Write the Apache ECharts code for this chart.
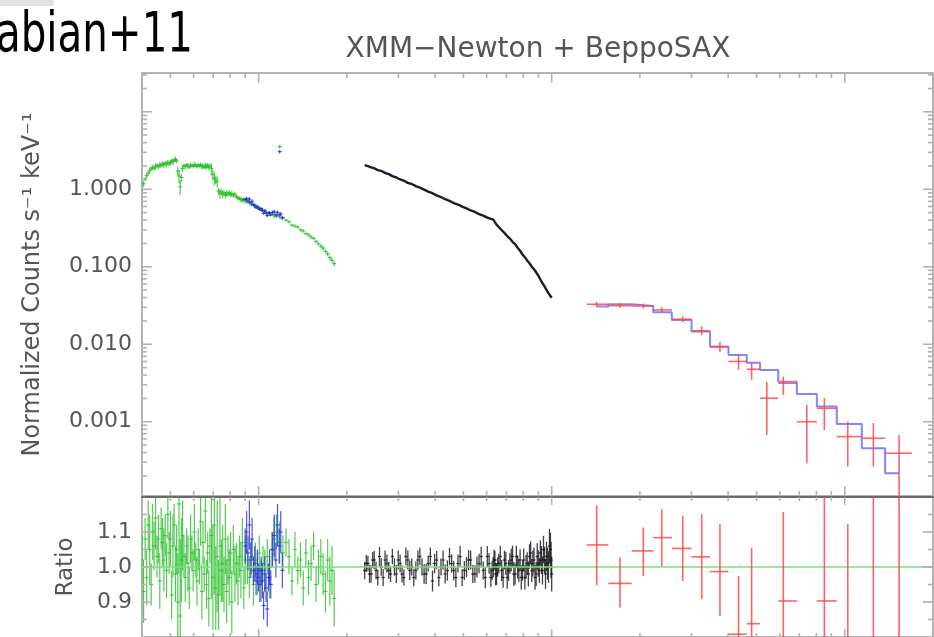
<!DOCTYPE html>
<html>
<head>
<meta charset="utf-8">
<title>XMM-Newton + BeppoSAX spectrum</title>
<script src="https://cdn.jsdelivr.net/npm/echarts@6/dist/echarts.min.js"></script>
<style>
  html, body { margin: 0; padding: 0; background: #ffffff; }
  #chart { width: 934px; height: 637px; }
</style>
</head>
<body>
<div id="chart"></div>
<script>
// ---- soft band (green): energy [keV], normalized counts, data/model ratio, ratio error
const lowE = [
  0.400,0.405,0.410,0.415,0.420,0.425,0.430,0.435,0.440,0.445,0.450,0.455,0.460,0.465,0.470,0.475,0.480,0.485,0.490,0.495,0.500,0.505,0.510,0.515,0.520,0.525,
  0.530,0.535,0.540,0.545,0.550,
  0.556,0.562,0.568,0.574,0.580,0.586,0.592,0.598,0.604,0.610,0.616,0.622,0.628,0.634,0.640,0.646,0.652,0.658,0.664,0.670,0.676,0.682,
  0.690,0.698,0.706,0.714,0.722,0.730,0.738,0.746,0.754,0.762,0.770,0.778,0.786,0.794,0.802,0.810,0.820,0.830,0.840,0.850,0.860,0.870,0.880,0.890,0.900,
  0.915,0.930,0.945,0.960,0.975,0.990,1.005,1.020,1.035,1.050,1.070,1.090,1.110,1.130,1.150,1.180,1.210,
  1.24,1.27,1.30,1.33,1.36,1.39,1.42,1.45,1.48,1.51,1.54,1.57,1.60,1.63,1.66,1.69,1.72,1.75,1.78,1.81
];
const lowF = [
  1.00,1.18,1.35,1.50,1.62,1.75,1.85,1.92,1.88,1.98,2.04,1.95,2.08,2.02,2.14,2.06,2.18,2.10,2.24,2.12,2.22,2.30,2.26,2.38,2.45,2.32,
  1.72,1.48,1.08,1.42,1.85,
  2.02,1.96,2.08,2.00,1.94,2.06,2.02,1.98,2.10,2.04,1.96,2.06,2.00,2.08,1.95,2.02,1.90,2.04,1.96,2.06,1.92,2.00,
  1.85,1.55,1.40,1.32,1.26,0.95,0.88,0.92,0.86,0.90,0.84,0.89,0.87,0.91,0.85,0.88,0.84,0.86,0.80,0.78,0.76,0.74,0.72,0.74,0.70,
  0.69,0.67,0.63,0.63,0.59,0.58,0.57,0.54,0.53,0.52,0.49,0.48,0.475,0.455,0.45,0.44,0.43,
  0.40,0.38,0.345,0.335,0.325,0.30,0.29,0.268,0.258,0.243,0.232,0.213,0.198,0.184,0.174,0.158,0.147,0.131,0.121,0.110
];
const lowRatio = [
  1.02,0.93,1.08,0.97,1.12,1.05,0.95,1.10,1.06,1.14,1.03,1.08,0.96,1.11,1.07,1.02,1.09,0.99,1.15,1.04,1.08,0.92,1.06,1.12,0.98,1.05,
  0.90,1.18,0.86,1.02,1.09,
  1.03,0.97,1.06,1.01,0.94,1.08,1.04,0.99,1.10,1.02,0.96,1.05,1.00,1.13,0.93,1.07,0.98,1.16,0.95,1.04,0.91,1.06,
  1.09,0.97,1.12,0.94,1.03,0.92,1.06,0.99,1.01,0.95,1.08,0.93,1.02,0.97,1.04,0.90,1.05,0.98,1.01,0.96,1.03,0.99,1.07,0.94,1.02,
  1.00,0.97,1.03,0.95,1.02,0.98,1.04,0.96,1.01,0.99,1.03,0.97,1.05,1.08,1.10,1.07,1.04,
  1.07,1.03,0.96,1.05,0.99,1.02,0.94,1.04,0.97,1.01,1.06,0.95,1.00,1.03,0.98,0.93,1.02,0.96,0.99,0.91
];
const lowErr = [
  0.07,0.09,0.06,0.08,0.07,0.10,0.06,0.08,0.07,0.09,0.06,0.07,0.08,0.06,0.07,0.09,0.06,0.08,0.07,0.06,0.08,0.07,0.09,0.06,0.08,0.07,
  0.14,0.20,0.22,0.12,0.10,
  0.06,0.07,0.05,0.08,0.06,0.07,0.05,0.06,0.08,0.05,0.07,0.06,0.05,0.07,0.08,0.06,0.05,0.09,0.07,0.06,0.08,0.05,
  0.18,0.15,0.20,0.12,0.16,0.10,0.14,0.09,0.11,0.08,0.10,0.09,0.07,0.08,0.06,0.09,0.07,0.08,0.06,0.07,0.06,0.08,0.07,0.06,0.07,
  0.05,0.06,0.05,0.06,0.05,0.06,0.05,0.06,0.05,0.06,0.05,0.06,0.05,0.06,0.05,0.06,0.05,
  0.04,0.05,0.04,0.05,0.04,0.05,0.05,0.04,0.05,0.05,0.04,0.05,0.05,0.05,0.06,0.06,0.06,0.07,0.07,0.08
];
// isolated high bins near 1.2 keV
const lowSpikeE = [1.18];
const lowSpikeF = [3.55];

// ---- second soft set (blue)
const midE = [0.900,0.910,0.920,0.930,0.940,0.950,0.960,0.970,0.980,0.990,1.000,1.010,1.020,1.030,1.040,1.050,1.060,1.070,1.080,1.090,1.100,1.115,1.130,1.145,1.160,1.175,1.190,1.205];
const midF = [0.742,0.759,0.707,0.745,0.668,0.697,0.629,0.626,0.586,0.600,0.572,0.551,0.564,0.538,0.490,0.529,0.498,0.458,0.495,0.500,0.466,0.504,0.512,0.469,0.504,0.466,0.479,0.426];
const midRatio = [1.06,1.10,1.04,1.12,1.02,1.08,0.99,1.01,0.96,1.00,0.97,0.95,0.99,0.96,0.89,0.98,0.94,0.88,0.97,1.00,0.95,1.05,1.09,1.02,1.12,1.06,1.10,0.99];
const midErr = [0.05,0.06,0.05,0.07,0.05,0.06,0.04,0.05,0.04,0.05,0.04,0.05,0.04,0.05,0.04,0.05,0.04,0.05,0.04,0.05,0.04,0.05,0.06,0.05,0.06,0.05,0.06,0.05];
const midSpikeE = [1.18];
const midSpikeF = [3.06];

// ---- EPIC band (black): spectrum channels
const epicE = [
  2.30,2.36,2.42,2.48,2.55,2.62,2.70,2.78,2.86,2.95,
  3.04,3.13,3.23,3.33,3.44,3.55,3.67,3.79,3.92,4.05,
  4.19,4.33,4.48,4.63,4.79,4.95,5.12,5.29,5.47,5.65,
  5.84,6.03,6.20,6.32,6.40,6.48,6.60,6.75,6.90,7.05,
  7.20,7.35,7.50,7.65,7.80,7.95,8.10,8.25,8.40,8.55,
  8.70,8.85,9.00,9.15,9.30,9.45,9.60,9.75,9.90,10.0
];
const epicF = [
  2.05,1.99,1.92,1.87,1.77,1.73,1.63,1.57,1.48,1.42,
  1.34,1.29,1.21,1.17,1.10,1.05,0.99,0.935,0.89,0.835,
  0.795,0.745,0.71,0.665,0.636,0.597,0.569,0.533,0.51,0.478,
  0.457,0.43,0.414,0.405,0.398,0.35,0.326,0.296,0.273,0.249,
  0.231,0.21,0.196,0.176,0.161,0.144,0.133,0.120,0.111,0.100,
  0.0928,0.0848,0.0771,0.0684,0.0615,0.0558,0.0505,0.0458,0.0420,0.0398
];
const epicRatio = [
  0.99,1.01,0.98,1.02,0.97,1.00,1.02,0.99,1.03,0.98,
  1.01,0.97,1.02,1.00,0.99,1.03,0.98,1.01,0.96,1.02,
  1.00,0.98,1.03,0.99,1.01,0.97,1.00,1.02,0.98,1.01,
  0.99,1.03,0.97,1.00,1.02,0.98,1.01,0.99,1.02,0.97,
  1.01,1.03,0.98,1.00,1.02,0.99,0.97,1.01,1.03,0.99,
  1.02,0.98,1.01,1.04,0.99,1.02,1.03,1.00,1.05,0.98
];
const epicErr = [
  0.025,0.022,0.024,0.026,0.023,0.025,0.027,0.024,0.022,0.026,
  0.025,0.023,0.027,0.024,0.026,0.025,0.028,0.023,0.030,0.026,
  0.024,0.027,0.025,0.028,0.026,0.024,0.029,0.027,0.025,0.028,
  0.026,0.030,0.027,0.029,0.026,0.031,0.028,0.030,0.027,0.032,
  0.029,0.031,0.030,0.033,0.031,0.029,0.034,0.032,0.035,0.033,
  0.036,0.034,0.038,0.036,0.040,0.038,0.042,0.045,0.048,0.050
];
// second EPIC camera: ratio channels between the ones above
const epic2E = [
  2.33,2.39,2.45,2.515,2.585,2.66,2.74,2.82,2.905,2.995,
  3.085,3.18,3.28,3.385,3.495,3.61,3.73,3.855,3.985,4.12,
  4.26,4.405,4.555,4.71,4.87,5.035,5.205,5.38,5.56,5.745,
  5.935,6.115,6.26,6.36,6.44,6.54,6.675,6.825,6.975,7.125,
  7.275,7.425,7.575,7.725,7.875,8.025,8.175,8.325,8.475,8.625,
  8.775,8.925,9.075,9.225,9.375,9.525,9.675,9.825,9.95
];
const epic2Ratio = [
  1.01,0.98,1.02,0.99,1.03,0.97,1.01,0.98,1.00,1.02,
  0.98,1.03,0.99,0.97,1.02,1.00,0.98,1.03,1.01,0.97,
  1.02,0.99,1.01,0.97,1.03,0.99,1.02,0.98,1.00,1.03,
  0.97,1.01,0.99,1.02,0.98,1.00,1.03,0.97,1.01,0.99,
  1.02,0.98,1.03,0.99,0.97,1.02,1.00,0.98,1.04,1.01,
  0.97,1.03,0.99,1.02,1.05,0.98,1.01,1.06,1.02
];
const epic2Err = [
  0.024,0.026,0.023,0.025,0.027,0.024,0.026,0.023,0.025,0.027,
  0.024,0.026,0.028,0.025,0.027,0.024,0.029,0.026,0.028,0.025,
  0.027,0.029,0.026,0.028,0.030,0.027,0.029,0.026,0.030,0.028,
  0.031,0.029,0.027,0.030,0.032,0.028,0.031,0.029,0.033,0.030,
  0.032,0.034,0.031,0.033,0.035,0.032,0.034,0.036,0.033,0.037,
  0.035,0.038,0.036,0.040,0.039,0.043,0.046,0.049,0.052
];

// ---- hard band (red): bin centre, bin edges, counts with errors, ratio with errors
const saxE    = [14.24,17.11,20.54,23.74,28.0,32.5,37.5,43.4,48.1,54.2,61.7,74.2,85.2,102.4,125.2,153.2];
const saxElo  = [13.17,15.6,18.75,22.2,25.7,30.0,34.7,40.1,46.3,51.4,59.3,68.6,80.3,93.9,114.3,137.3];
const saxEhi  = [15.6,18.75,22.2,25.7,30.0,34.7,40.1,46.3,51.4,59.3,68.6,80.3,93.9,114.3,137.3,169.3];
const saxF    = [0.0328,0.0315,0.0312,0.0277,0.0210,0.0149,0.0093,0.0060,0.00476,0.00201,0.00314,0.00100,0.00149,0.000643,0.000612,0.000392];
const saxFlo  = [0.0305,0.0295,0.0290,0.0255,0.0192,0.0131,0.0080,0.00466,0.00347,0.000676,0.00222,0.000294,0.000783,0.000264,0.000264,0.00001];
const saxFhi  = [0.0352,0.0336,0.0335,0.0300,0.0229,0.0170,0.0108,0.00728,0.00575,0.00329,0.00382,0.00165,0.00203,0.00100,0.000964,0.000676];
const saxRatio   = [1.063,0.953,1.046,1.084,1.053,1.029,0.987,0.808,0.838,0.43,0.903,0.44,0.903,0.69,1.35,1.81];
const saxRatioLo = [0.948,0.884,0.974,1.003,0.960,0.908,0.860,0.62,0.60,0.145,0.67,0.13,0.50,0.28,0.58,0.05];
const saxRatioHi = [1.176,1.027,1.113,1.165,1.146,1.151,1.122,0.974,1.055,0.71,1.157,0.72,1.29,1.122,2.12,3.1];
// folded model (blue histogram): step edges and levels
const saxModelEdges  = [14.24,15.6,18.75,22.2,25.7,30.0,34.7,40.1,46.3,51.4,59.3,68.6,80.3,93.9,114.3,137.3,153.2];
const saxModelLevels = [0.0306,0.0328,0.0312,0.0259,0.0206,0.0146,0.0093,0.00728,0.00579,0.00466,0.00329,0.00228,0.00157,0.000937,0.000455,0.000216];

// ---- axis ticks and labels
const xMajorTicks = [1, 10, 100];
const xMinorTicks = [0.5,0.6,0.7,0.8,0.9,2,3,4,5,6,7,8,9,20,30,40,50,60,70,80,90];
const yMajorTicks = [0.001, 0.01, 0.1, 1, 10];
const yMinorTicks = [
  0.0002,0.0003,0.0004,0.0005,0.0006,0.0007,0.0008,0.0009,
  0.002,0.003,0.004,0.005,0.006,0.007,0.008,0.009,
  0.02,0.03,0.04,0.05,0.06,0.07,0.08,0.09,
  0.2,0.3,0.4,0.5,0.6,0.7,0.8,0.9,
  2,3,4,5,6,7,8,9,20,30
];
const yLabelTicks = [0.001, 0.01, 0.1, 1];
const ratioMajorTicks = [0.9, 1.0, 1.1];
const ratioMinorTicks = [0.85, 0.95, 1.05, 1.15];

const X_MIN = 0.4, X_MAX = 200;
const Y_MIN = 1.1e-4, Y_MAX = 31.7;
const R_MIN = 0.8, R_MAX = 1.2;

const GREEN = 'rgba(36,190,36,0.80)';
const BLUE = 'rgba(40,40,225,0.80)';
const BLACK = 'rgba(18,18,24,0.80)';
const RED = 'rgba(255,72,72,0.85)';
const AXIS_GREY = '#b2b2b2';
const LABEL_GREY = '#555555';
const FONT = '"DejaVu Sans", "Liberation Sans", sans-serif';

// error bar glyph: [x, y, yLow, yHigh, xLow, xHigh]; xLow/xHigh = 0 gives a short cap
function errorBarRenderer(color, width, halfCap) {
  return function (params, api) {
    const x = api.value(0), y = api.value(1);
    const c = api.coord([x, y]);
    const lo = api.coord([x, api.value(2)]);
    const hi = api.coord([x, api.value(3)]);
    const xl = api.value(4), xh = api.value(5);
    let l = c[0] - halfCap, r = c[0] + halfCap;
    if (xl > 0 && xh > 0) {
      l = api.coord([xl, y])[0];
      r = api.coord([xh, y])[0];
    }
    const style = { stroke: color, lineWidth: width };
    return {
      type: 'group',
      children: [
        { type: 'line', shape: { x1: c[0], y1: lo[1], x2: c[0], y2: hi[1] }, style: style },
        { type: 'line', shape: { x1: l, y1: c[1], x2: r, y2: c[1] }, style: style }
      ]
    };
  };
}

// tick marks on all four sides of a panel: item = [x, y, kind]
// kind 0/1: major/minor x tick, kind 2/3: major/minor y tick
function tickRenderer(xLen, yLen) {
  return function (params, api) {
    const cs = params.coordSys;
    const kind = api.value(2);
    const p = api.coord([api.value(0), api.value(1)]);
    const style = { stroke: AXIS_GREY, lineWidth: 1.6 };
    if (kind < 2) {
      const len = xLen[kind];
      const top = cs.y, bot = cs.y + cs.height;
      return { type: 'group', children: [
        { type: 'line', shape: { x1: p[0], y1: top, x2: p[0], y2: top + len[0] }, style: style },
        { type: 'line', shape: { x1: p[0], y1: bot, x2: p[0], y2: bot - len[1] }, style: style }
      ] };
    }
    const len = yLen[kind - 2];
    const left = cs.x, right = cs.x + cs.width;
    return { type: 'group', children: [
      { type: 'line', shape: { x1: left, y1: p[1], x2: left + len, y2: p[1] }, style: style },
      { type: 'line', shape: { x1: right, y1: p[1], x2: right - len, y2: p[1] }, style: style }
    ] };
  };
}

// assemble series data
const lowSpec = lowE.map((e, i) => [e, lowF[i], lowF[i] * (1 - lowErr[i]), lowF[i] * (1 + lowErr[i]), 0, 0])
  .concat(lowSpikeE.map((e, i) => [e, lowSpikeF[i], lowSpikeF[i] * 0.95, lowSpikeF[i] * 1.05, 0, 0]));
const midSpec = midE.map((e, i) => [e, midF[i], midF[i] * (1 - midErr[i]), midF[i] * (1 + midErr[i]), 0, 0])
  .concat(midSpikeE.map((e, i) => [e, midSpikeF[i], midSpikeF[i] * 0.95, midSpikeF[i] * 1.05, 0, 0]));
const lowRat = lowE.map((e, i) => [e, lowRatio[i], lowRatio[i] - lowErr[i], lowRatio[i] + lowErr[i], 0, 0]);
const midRat = midE.map((e, i) => [e, midRatio[i], midRatio[i] - midErr[i], midRatio[i] + midErr[i], 0, 0]);
const epicLine = epicE.map((e, i) => [e, epicF[i]]);
const epicRat = epicE.map((e, i) => [e, epicRatio[i], epicRatio[i] - epicErr[i], epicRatio[i] + epicErr[i], 0, 0])
  .concat(epic2E.map((e, i) => [e, epic2Ratio[i], epic2Ratio[i] - epic2Err[i], epic2Ratio[i] + epic2Err[i], 0, 0]));
const saxSpec = saxE.map((e, i) => [e, saxF[i], saxFlo[i], saxFhi[i], saxElo[i], saxEhi[i]]);
const saxRat = saxE.map((e, i) => [e, saxRatio[i], saxRatioLo[i], saxRatioHi[i], saxElo[i], saxEhi[i]]);
const saxModel = saxModelEdges.map((e, i) => [e, saxModelLevels[Math.min(i, saxModelLevels.length - 1)]]);
const unityLine = [[X_MIN, 1], [X_MAX, 1]];

const topTicks = []
  .concat(xMajorTicks.map(v => [v, 1, 0]))
  .concat(xMinorTicks.map(v => [v, 1, 1]))
  .concat(yMajorTicks.map(v => [1, v, 2]))
  .concat(yMinorTicks.map(v => [1, v, 3]));
const ratioTicks = []
  .concat(xMajorTicks.map(v => [v, 1, 0]))
  .concat(xMinorTicks.map(v => [v, 1, 1]))
  .concat(ratioMajorTicks.map(v => [1, v, 2]))
  .concat(ratioMinorTicks.map(v => [1, v, 3]));

function isLabelled(v, list) {
  return list.some(t => Math.abs(v - t) / t < 1e-6);
}

// corner tag: squeeze the glyphs horizontally to the narrow hand-lettered look
const TAG_TEXT = 'Fabian+11';
const TAG_FONT = '56px "DejaVu Sans", sans-serif';
const measureCtx = document.createElement('canvas').getContext('2d');
measureCtx.font = TAG_FONT;
const tagScale = 197 / measureCtx.measureText('abian+11').width;

const chart = echarts.init(document.getElementById('chart'), null, { renderer: 'canvas' });

chart.setOption({
  animation: false,
  backgroundColor: '#ffffff',
  title: {
    text: 'XMM−Newton + BeppoSAX',
    left: 538,
    top: 36,
    textAlign: 'center',
    padding: 0,
    textStyle: { fontFamily: FONT, fontSize: 28, fontWeight: 'normal', color: LABEL_GREY }
  },
  graphic: [
    { type: 'rect', shape: { x: 0, y: 0, width: 54, height: 6 }, style: { fill: '#e2e2e2' } },
    {
      type: 'text', x: 193, y: 36, scaleX: tagScale, scaleY: 1,
      style: {
        text: TAG_TEXT,
        align: 'right',
        verticalAlign: 'middle',
        font: TAG_FONT,
        fill: '#000000'
      }
    }
  ],
  grid: [
    { left: 142, top: 73, width: 791, height: 423, show: true, borderColor: AXIS_GREY, borderWidth: 2, backgroundColor: 'transparent' },
    { left: 142, top: 497, width: 791, height: 141, show: true, borderColor: AXIS_GREY, borderWidth: 2, backgroundColor: 'transparent' }
  ],
  xAxis: [
    {
      gridIndex: 0, type: 'log', logBase: 10, min: X_MIN, max: X_MAX,
      axisLine: { show: false }, axisTick: { show: false }, axisLabel: { show: false }, splitLine: { show: false }
    },
    {
      gridIndex: 1, type: 'log', logBase: 10, min: X_MIN, max: X_MAX, position: 'top',
      axisLine: { show: true, lineStyle: { color: '#6a6a6a', width: 2 } },
      axisTick: { show: false }, axisLabel: { show: false }, splitLine: { show: false }
    }
  ],
  yAxis: [
    {
      gridIndex: 0, type: 'log', logBase: 10, min: Y_MIN, max: Y_MAX,
      axisLine: { show: false }, axisTick: { show: false }, splitLine: { show: false },
      axisLabel: {
        margin: 10, fontFamily: FONT, fontSize: 22, color: LABEL_GREY,
        showMinLabel: true, showMaxLabel: true,
        formatter: v => isLabelled(v, yLabelTicks) ? Number(v).toFixed(3) : ''
      },
      name: 'Normalized Counts s⁻¹ keV⁻¹',
      nameLocation: 'middle', nameRotate: 90, nameGap: 97,
      nameTextStyle: { fontFamily: FONT, fontSize: 24, color: LABEL_GREY }
    },
    {
      gridIndex: 1, type: 'value', min: R_MIN, max: R_MAX, interval: 0.1,
      axisLine: { show: false }, axisTick: { show: false }, splitLine: { show: false },
      axisLabel: {
        margin: 10, fontFamily: FONT, fontSize: 22, color: LABEL_GREY,
        formatter: v => isLabelled(v, ratioMajorTicks) ? Number(v).toFixed(1) : ''
      },
      name: 'Ratio',
      nameLocation: 'middle', nameRotate: 90, nameGap: 64,
      nameTextStyle: { fontFamily: FONT, fontSize: 23, color: LABEL_GREY }
    }
  ],
  series: [
    // spectrum panel
    { name: 'soft', type: 'custom', xAxisIndex: 0, yAxisIndex: 0, clip: true, encode: { x: 0, y: 1 },
      renderItem: errorBarRenderer(GREEN, 1.2, 2), data: lowSpec, z: 3 },
    { name: 'soft-2', type: 'custom', xAxisIndex: 0, yAxisIndex: 0, clip: true, encode: { x: 0, y: 1 },
      renderItem: errorBarRenderer(BLUE, 1.2, 2), data: midSpec, z: 3 },
    { name: 'epic', type: 'line', xAxisIndex: 0, yAxisIndex: 0, data: epicLine, symbol: 'none',
      lineStyle: { color: '#1b1b2e', width: 2.4 }, z: 4 },
    { name: 'hard model', type: 'line', xAxisIndex: 0, yAxisIndex: 0, data: saxModel, step: 'end', symbol: 'none',
      lineStyle: { color: 'rgba(110,110,255,0.85)', width: 2 }, z: 4 },
    { name: 'hard', type: 'custom', xAxisIndex: 0, yAxisIndex: 0, clip: true, encode: { x: 0, y: 1 },
      renderItem: errorBarRenderer(RED, 1.6, 2), data: saxSpec, z: 5 },
    { name: 'ticks-top', type: 'custom', xAxisIndex: 0, yAxisIndex: 0, encode: { x: 0, y: 1 },
      renderItem: tickRenderer([[10, 10], [5, 5]], [10, 5]), data: topTicks, z: 6, silent: true },

    // ratio panel
    { name: 'soft ratio', type: 'custom', xAxisIndex: 1, yAxisIndex: 1, clip: true, encode: { x: 0, y: 1 },
      renderItem: errorBarRenderer(GREEN, 1.2, 2), data: lowRat, z: 3 },
    { name: 'soft-2 ratio', type: 'custom', xAxisIndex: 1, yAxisIndex: 1, clip: true, encode: { x: 0, y: 1 },
      renderItem: errorBarRenderer(BLUE, 1.2, 2), data: midRat, z: 3 },
    { name: 'epic ratio', type: 'custom', xAxisIndex: 1, yAxisIndex: 1, clip: true, encode: { x: 0, y: 1 },
      renderItem: errorBarRenderer(BLACK, 1.3, 1.6), data: epicRat, z: 3 },
    { name: 'unity', type: 'line', xAxisIndex: 1, yAxisIndex: 1, data: unityLine, symbol: 'none',
      lineStyle: { color: '#78e078', width: 1.5 }, z: 4, silent: true },
    { name: 'hard ratio', type: 'custom', xAxisIndex: 1, yAxisIndex: 1, clip: true, encode: { x: 0, y: 1 },
      renderItem: errorBarRenderer(RED, 1.6, 2), data: saxRat, z: 5 },
    { name: 'ticks-ratio', type: 'custom', xAxisIndex: 1, yAxisIndex: 1, encode: { x: 0, y: 1 },
      renderItem: tickRenderer([[8, 8], [4, 4]], [10, 5]), data: ratioTicks, z: 6, silent: true }
  ]
});
</script>
</body>
</html>
